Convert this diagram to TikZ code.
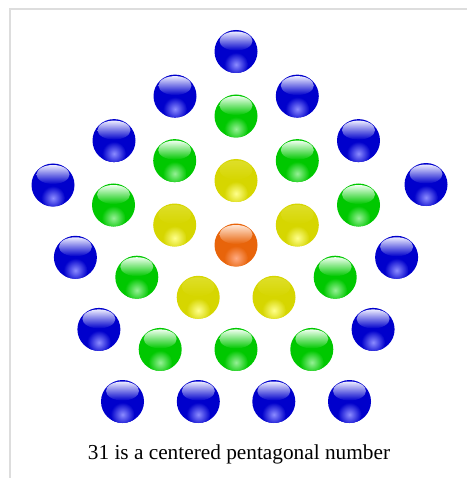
\documentclass[tikz,border=0pt]{standalone}
\usepackage{fontspec}
\setmainfont{Liberation Serif}
\usetikzlibrary{calc}
\definecolor{framec}{RGB}{221,221,221}
\definecolor{blueB}{RGB}{0,0,204}
\definecolor{blueG}{RGB}{140,140,255}
\definecolor{blueH}{RGB}{235,235,255}
\definecolor{greenB}{RGB}{0,200,0}
\definecolor{greenG}{RGB}{150,240,150}
\definecolor{greenH}{RGB}{238,255,238}
\definecolor{yellowB}{RGB}{214,214,0}
\definecolor{yellowG}{RGB}{255,255,140}
\definecolor{yellowH}{RGB}{222,222,40}
\definecolor{orangeB}{RGB}{232,100,10}
\definecolor{orangeG}{RGB}{255,170,130}
\definecolor{orangeH}{RGB}{255,228,210}
\tikzset{ballnode/.style={circle, minimum size=43pt, inner sep=0pt},
  captionstyle/.style={anchor=base, inner sep=0pt, font=\fontsize{21.3}{26}\selectfont}}
\newcommand\glossy[4]{%
  \node[ballnode] (#1) at (#2,#3) {};
  \fill[#4B] (#1) circle (21.5);
  \begin{scope}
    \clip (#1) circle (21.5);
    \shade[inner color=#4G, outer color=#4B] ($(#1)+(0,13)$) circle (12);
  \end{scope}
  \shade[top color=#4H, bottom color=#4B] ($(#1)+(0,-10.5)$) ellipse (16.5 and 9.5);
}
\begin{document}
\begin{tikzpicture}[x=1pt,y=-1pt]
\useasboundingbox (0,0) rectangle (466,478);
\fill[white] (0,0) rectangle (466,478);
\draw[framec, line width=2pt] (10,480) -- (10,9) -- (468,9);
% centre
\glossy{c0}{236}{245}{orange}
% ring 1
\glossy{y1}{236}{180.5}{yellow}
\glossy{y2}{297.3}{225}{yellow}
\glossy{y3}{274}{297.3}{yellow}
\glossy{y4}{198.2}{297.3}{yellow}
\glossy{y5}{174.7}{225}{yellow}
% ring 2
\glossy{g1}{236}{116}{green}
\glossy{g2}{297.3}{160.6}{green}
\glossy{g3}{358.5}{205}{green}
\glossy{g4}{335.2}{277.2}{green}
\glossy{g5}{311.8}{349.4}{green}
\glossy{g6}{236}{349.4}{green}
\glossy{g7}{160.2}{349.4}{green}
\glossy{g8}{136.8}{277.2}{green}
\glossy{g9}{113.5}{205}{green}
\glossy{g10}{174.7}{160.6}{green}
% ring 3
\glossy{b1}{236}{51.5}{blue}
\glossy{b2}{297.3}{96.1}{blue}
\glossy{b3}{358.5}{140.6}{blue}
\glossy{b4}{426}{184.5}{blue}
\glossy{b5}{396.6}{257.3}{blue}
\glossy{b6}{373.1}{329.4}{blue}
\glossy{b7}{349.5}{401.5}{blue}
\glossy{b8}{273.8}{401.5}{blue}
\glossy{b9}{198.3}{401.5}{blue}
\glossy{b10}{122.5}{401.5}{blue}
\glossy{b11}{98.9}{329.4}{blue}
\glossy{b12}{75.4}{257.3}{blue}
\glossy{b13}{53}{185}{blue}
\glossy{b14}{114}{140.6}{blue}
\glossy{b15}{175}{96.1}{blue}
% caption
\node[captionstyle] (caption) at (239,459) {31 is a centered pentagonal number};
\end{tikzpicture}
\end{document}
